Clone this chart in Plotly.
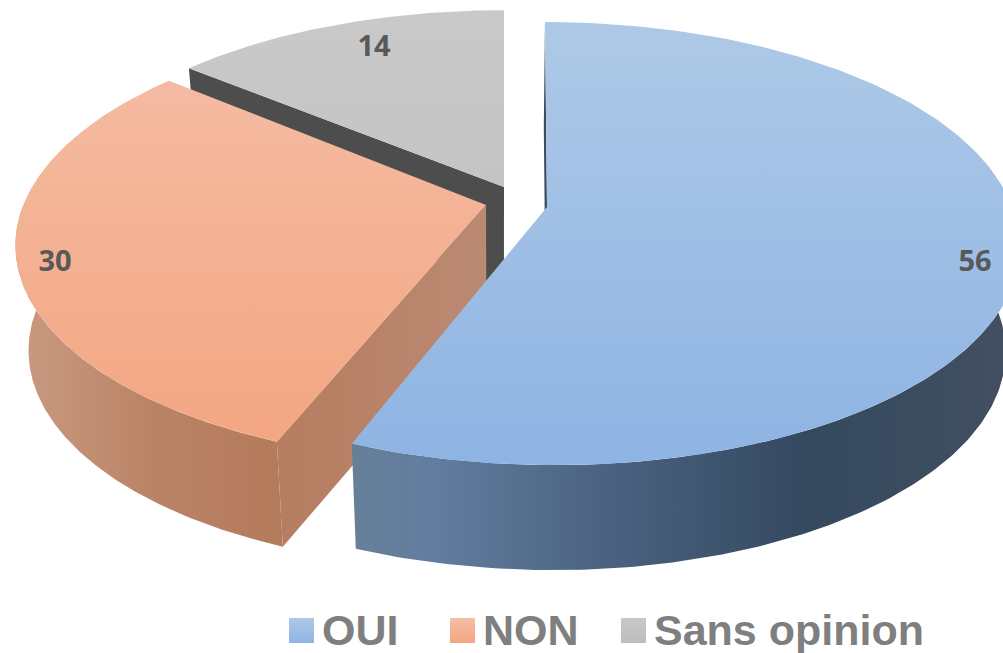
import numpy as np
import plotly.graph_objects as go

categories = ["OUI", "NON", "Sans opinion"]
values = [56, 30, 14]
top_colors = [("#aec9e7", "#8eb4e3"), ("#f5bea7", "#f3a580"), ("#c9c9c9", "#bdbdbd")]

W, H = 1003, 653
A, B, P = 215.5, 465.0, 0.165      # plan-to-screen projection of the disc
DEPTH, VX, K = 105.0, 500.0, 0.027  # extrusion and its convergence

# apex of each exploded slice, its scale, and skew for far / near half
slices = [
    dict(ax=547, ay=207, sx=1.0, sy=1.0, far=2.0, near=7.5),
    dict(ax=486, ay=205, sx=0.995, sy=1.0, far=-8.6, near=-8.6),
    dict(ax=504, ay=187, sx=0.972, sy=0.956, far=0.0, near=0.0),
]

total = sum(values)
edges = np.concatenate([[0], np.cumsum(values)]) / total * 2 * np.pi


def proj(s, t):
    t = np.atleast_1d(t)
    X, Y = np.sin(t), np.cos(t)
    sk = np.where(Y > 0, s["far"], s["near"])
    x = s["ax"] + s["sx"] * B * X / (1 + P * Y) - sk * Y
    y = s["ay"] - s["sy"] * A * Y / (1 + P * Y)
    return (x, y)


def down(s, x, y):
    return x + K * (VX - x), y + DEPTH * s["sy"]


fig = go.Figure()


def poly(x, y, kind, scale, lo, hi, name):
    fig.add_trace(go.Scatter(
        x=list(x), y=list(y), mode="lines", line=dict(width=0), fill="toself", name=name,
        fillgradient=dict(type=kind, colorscale=scale, start=lo, stop=hi),
        hoverinfo="skip", showlegend=False))


def top_face(i):
    s = slices[i]
    t = np.linspace(edges[i], edges[i + 1], 160)
    x, y = proj(s, t)
    x = np.r_[s["ax"], x, s["ax"]]
    y = np.r_[s["ay"], y, s["ay"]]
    c = top_colors[i]
    lo = s["ay"] - s["sy"] * A / (1 + P)
    hi = s["ay"] + s["sy"] * A / (1 - P)
    poly(x, y, "vertical", [[0, c[0]], [1, c[1]]], lo, hi, categories[i])


def outer_wall(i, scale, lo, hi):
    # only the near half of the rim faces the viewer
    s = slices[i]
    t0 = max(edges[i], np.pi / 2)
    t1 = min(edges[i + 1], 3 * np.pi / 2)
    t = np.linspace(t0, t1, 160)
    x, y = proj(s, t)
    xd, yd = down(s, x, y)
    poly(np.r_[x, xd[::-1], x[0]], np.r_[y, yd[::-1], y[0]], "horizontal", scale, lo, hi, categories[i])


def cut_wall(i, angle, scale, lo, hi):
    s = slices[i]
    x, y = proj(s, angle)
    ax, ay = s["ax"], s["ay"]
    axd, ayd = down(s, np.array([ax]), np.array([ay]))
    xd, yd = down(s, x, y)
    poly([ax, x[0], xd[0], axd[0], ax], [ay, y[0], yd[0], ayd[0], ay], "horizontal", scale, lo, hi, categories[i])


# back to front: grey, salmon, blue
cut_wall(2, edges[2], [[0, "#4d4d4d"], [1, "#4d4d4d"]], 0, W)
top_face(2)

outer_wall(1, [[0, "#c89a80"], [0.5, "#bb8366"], [1, "#b47a5c"]], 20, 285)
cut_wall(1, edges[1], [[0, "#b67d60"], [1, "#bb8a73"]], 280, 490)
top_face(1)

cut_wall(0, edges[0], [[0, "#3a4c60"], [1, "#3a4c60"]], 0, W)
outer_wall(0, [[0, "#668099"], [0.12, "#627d9f"], [0.4, "#4a6180"], [0.7, "#34495f"], [1, "#424f60"]], 352, 1003)
top_face(0)

# data labels
label_x = [975, 55, 374]
label_y = [264, 264, 49]
fig.add_trace(go.Scatter(
    x=label_x, y=label_y, mode="text", text=[str(v) for v in values],
    textfont=dict(family="Open Sans", size=29, color="#595959", weight="bold"),
    textposition="middle center", hoverinfo="skip", showlegend=False))

# key
key_x = [289, 450, 621]
key_size = 25
key_top = 618
for i, c in enumerate(top_colors):
    x0 = key_x[i]
    poly([x0, x0 + key_size, x0 + key_size, x0, x0],
         [key_top, key_top, key_top + key_size, key_top + key_size, key_top],
         "vertical", [[0, c[0]], [1, c[1]]], key_top, key_top + key_size, categories[i])
fig.add_trace(go.Scatter(
    x=[v + 33 for v in key_x], y=[634] * 3, mode="text", text=categories,
    textfont=dict(family="Liberation Sans", size=43, color="#7f7f7f", weight="bold"),
    textposition="middle right", hoverinfo="skip", showlegend=False))

fig.update_layout(
    width=W, height=H, margin=dict(l=0, r=0, t=0, b=0),
    paper_bgcolor="white", plot_bgcolor="white", showlegend=False,
    xaxis=dict(range=[0, W], visible=False, fixedrange=True),
    yaxis=dict(range=[H, 0], visible=False, fixedrange=True),
)
fig.write_html("out.html", config=dict(displayModeBar=False),
               post_script="document.body.style.margin='0';document.body.style.overflow='hidden';")
